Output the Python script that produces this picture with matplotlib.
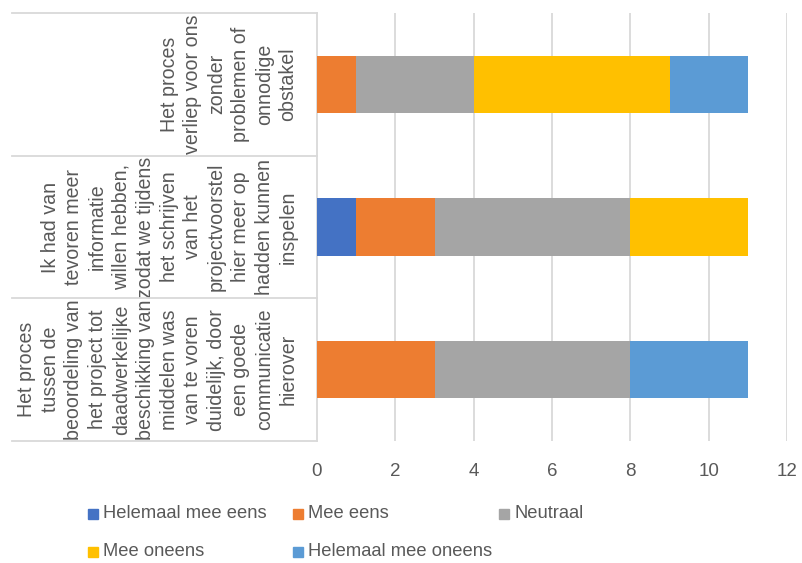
import matplotlib
matplotlib.use("Agg")
import matplotlib.pyplot as plt
from matplotlib.patches import Rectangle
from matplotlib.lines import Line2D
from matplotlib.transforms import blended_transform_factory
import numpy as np

plt.rcParams['font.family'] = ['Liberation Sans', 'DejaVu Sans']

categories = [
    "Het proces\ntussen de\nbeoordeling van\nhet project tot\ndaadwerkelijke\nbeschikking van\nmiddelen was\nvan te voren\nduidelijk, door\neen goede\ncommunicatie\nhierover",
    "Ik had van\ntevoren meer\ninformatie\nwillen hebben,\nzodat we tijdens\nhet schrijven\nvan het\nprojectvoorstel\nhier meer op\nhadden kunnen\ninspelen",
    "Het proces\nverliep voor ons\nzonder\nproblemen of\nonnodige\nobstakel",
]
series_names = ["Helemaal mee eens", "Mee eens", "Neutraal", "Mee oneens", "Helemaal mee oneens"]
helemaal_mee_eens = [0, 1, 0]
mee_eens = [3, 2, 1]
neutraal = [5, 5, 3]
mee_oneens = [0, 3, 5]
helemaal_mee_oneens = [3, 0, 2]
series_values = [helemaal_mee_eens, mee_eens, neutraal, mee_oneens, helemaal_mee_oneens]
colors = ["#4472C4", "#ED7D31", "#A5A5A5", "#FFC000", "#5B9BD5"]
xticks = [0, 2, 4, 6, 8, 10, 12]

W, H = 802, 563
fig = plt.figure(figsize=(W / 100, H / 100), dpi=100)
ax = fig.add_axes([317 / W, 1 - 441 / H, (787 - 317) / W, (441 - 13) / H])

y = np.arange(len(categories))
left = np.zeros(len(categories))
for name, vals, c in zip(series_names, series_values, colors):
    ax.barh(y, vals, left=left, height=0.4, color=c, label=name, zorder=3)
    left += np.array(vals)

ax.set_xlim(0, 12)
ax.set_ylim(-0.5, len(categories) - 0.5)
ax.set_xticks(xticks)
ax.set_xticklabels([str(t) for t in xticks], fontsize=13.5, color="#595959")
ax.tick_params(axis='x', length=0, pad=15.5)
ax.set_yticks(y)
ax.set_yticklabels(categories, fontsize=14.1, color="#595959", rotation=90)
for lbl in ax.get_yticklabels():
    lbl.set_multialignment('center')
    lbl.set_linespacing(1.32)
    lbl.set_ha('right')
    lbl.set_va('center')
ax.tick_params(axis='y', length=0, pad=14)

grid_c = "#D9D9D9"
for t in xticks[1:]:
    ax.axvline(t, color=grid_c, lw=1.3, zorder=1)
for s in ['top', 'right', 'bottom']:
    ax.spines[s].set_visible(False)
ax.spines['left'].set_color(grid_c)
ax.spines['left'].set_linewidth(1.3)

# table lines for the category axis
tr = blended_transform_factory(fig.transFigure, ax.transData)
for yb in np.arange(-0.5, len(categories), 1.0):
    fig.add_artist(Line2D([12 / W, 317 / W], [yb, yb], transform=tr, color=grid_c, lw=1.3, clip_on=False))

# legend
col_x = [88, 293, 499]
row_y = [514, 552]
for i, (name, c) in enumerate(zip(series_names, colors)):
    cx = col_x[i % 3]
    cy = row_y[i // 3]
    fig.add_artist(Rectangle((cx / W, 1 - (cy + 5) / H), 10 / W, 10 / H,
                             transform=fig.transFigure, color=c))
    fig.text((cx + 15) / W, 1 - cy / H, name, fontsize=13.2, color="#595959",
             ha='left', va='center')

fig.savefig("out.png", dpi=100)
